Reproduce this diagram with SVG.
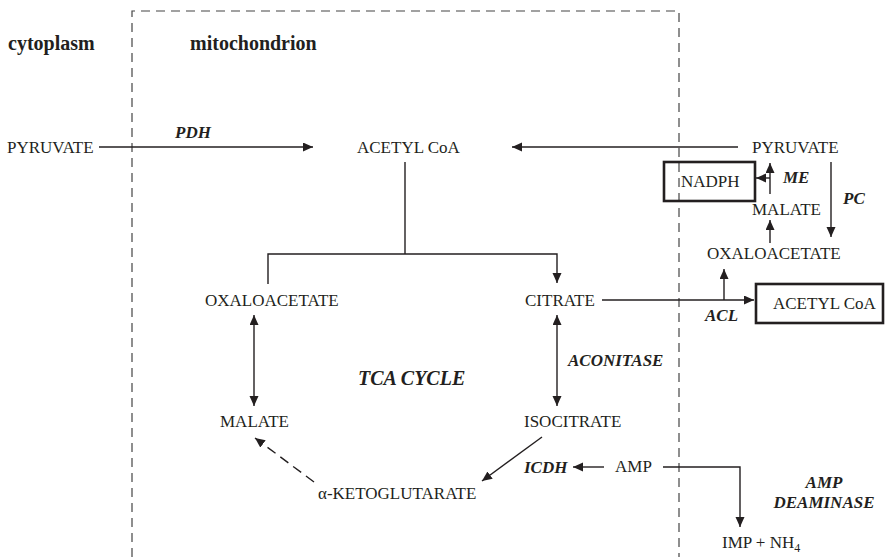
<svg xmlns="http://www.w3.org/2000/svg" width="889" height="557" viewBox="0 0 889 557">
<style>
text{font-family:"Liberation Serif","Times New Roman",serif;fill:#231f20}
.t{font-size:17px}
.e{font-size:17px;font-weight:bold;font-style:italic}
.h{font-size:20px;font-weight:bold}
.c{font-size:20px;font-weight:bold;font-style:italic}
.ln{stroke:#231f20;stroke-width:1.4;fill:none}
.bx{stroke:#231f20;stroke-width:2.6;fill:none}
.dash{stroke:#444;stroke-width:1.2;fill:none;stroke-dasharray:9 6}
</style>
<defs>
<marker id="ah" markerUnits="userSpaceOnUse" markerWidth="12" markerHeight="10" refX="10" refY="4.5" orient="auto-start-reverse">
<path d="M0,0 L10,4.5 L0,9 z" fill="#231f20"/>
</marker>
</defs>
<rect width="889" height="557" fill="#fff"/>
<path class="dash" d="M132,557 V11 H679 V557"/>
<g id="labels">
<text class="h" x="8" y="50">cytoplasm</text>
<text class="h" x="190" y="50">mitochondrion</text>
<text class="c" x="358" y="385">TCA CYCLE</text>
</g>
<g id="connectors">
<line class="ln" x1="99" y1="147" x2="313" y2="147" marker-end="url(#ah)"/>
<line class="ln" x1="738" y1="147" x2="512" y2="147" marker-end="url(#ah)"/>
<line class="ln" x1="770" y1="194" x2="770" y2="163" marker-end="url(#ah)"/>
<line class="ln" x1="770" y1="178" x2="756" y2="178" marker-end="url(#ah)"/>
<line class="ln" x1="831" y1="162" x2="831" y2="237" marker-end="url(#ah)"/>
<line class="ln" x1="770" y1="243" x2="770" y2="220" marker-end="url(#ah)"/>
<line class="ln" x1="602" y1="300" x2="754" y2="300" marker-end="url(#ah)"/>
<line class="ln" x1="724" y1="300" x2="724" y2="269" marker-end="url(#ah)"/>
<path class="ln" d="M405,162 V254"/>
<path class="ln" d="M268,284 V254 H557 V283" marker-end="url(#ah)"/>
<line class="ln" x1="254" y1="315" x2="254" y2="406" marker-start="url(#ah)" marker-end="url(#ah)"/>
<line class="ln" x1="557" y1="315" x2="557" y2="406" marker-start="url(#ah)" marker-end="url(#ah)"/>
<line class="ln" x1="542" y1="437" x2="482" y2="481" marker-end="url(#ah)"/>
<line class="ln" x1="314" y1="482" x2="255" y2="438" stroke-dasharray="10 6" marker-end="url(#ah)"/>
<line class="ln" x1="604" y1="467" x2="573" y2="467" marker-end="url(#ah)"/>
<path class="ln" d="M663,467 H740 V527" marker-end="url(#ah)"/>
</g>
<g id="pyruvate-cyto"><text class="t" x="7" y="153">PYRUVATE</text></g>
<g id="pdh"><text class="e" x="175" y="138">PDH</text></g>
<g id="acetylcoa-mito"><text class="t" x="357" y="153">ACETYL CoA</text></g>
<g id="pyruvate-right"><text class="t" x="752" y="153">PYRUVATE</text></g>
<g id="nadph"><rect class="bx" x="664" y="162" width="91" height="39"/><text class="t" x="681" y="187">NADPH</text></g>
<g id="me"><text class="e" x="783" y="183">ME</text></g>
<g id="pc"><text class="e" x="843" y="204">PC</text></g>
<g id="malate-right"><text class="t" x="752" y="215">MALATE</text></g>
<g id="oaa-right"><text class="t" x="707" y="259">OXALOACETATE</text></g>
<g id="acetylcoa-cyto"><rect class="bx" x="756" y="284" width="127" height="39"/><text class="t" x="773" y="309">ACETYL CoA</text></g>
<g id="acl"><text class="e" x="705" y="321">ACL</text></g>
<g id="oaa-mito"><text class="t" x="205" y="306">OXALOACETATE</text></g>
<g id="citrate"><text class="t" x="525" y="306">CITRATE</text></g>
<g id="aconitase"><text class="e" x="568" y="366">ACONITASE</text></g>
<g id="malate-mito"><text class="t" x="220" y="427">MALATE</text></g>
<g id="isocitrate"><text class="t" x="524" y="427">ISOCITRATE</text></g>
<g id="icdh"><text class="e" x="524" y="473">ICDH</text></g>
<g id="amp"><text class="t" x="615" y="472">AMP</text></g>
<g id="akg"><text class="t" x="318" y="499">α-KETOGLUTARATE</text></g>
<g id="amp-deaminase"><text class="e" x="824" y="488" text-anchor="middle">AMP</text><text class="e" x="824" y="508" text-anchor="middle">DEAMINASE</text></g>
<g id="imp"><text class="t" x="722" y="548">IMP + NH<tspan font-size="12" dy="4">4</tspan></text></g>
</svg>
